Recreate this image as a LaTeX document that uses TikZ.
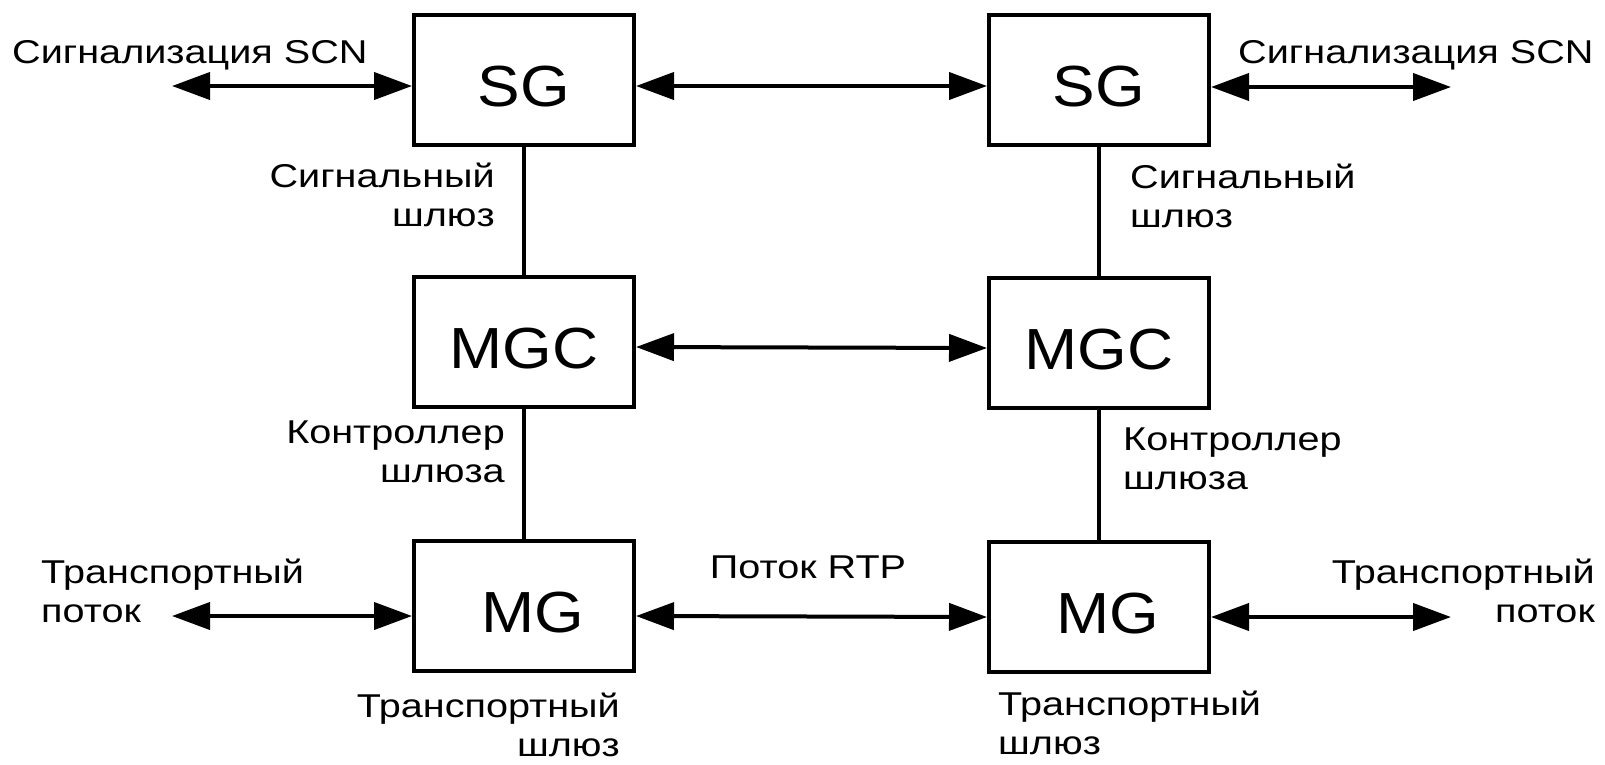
\documentclass[tikz,border=0pt]{standalone}
\usepackage{fontspec}
\setmainfont{Liberation Sans}[FakeStretch=1.2]
\newfontfamily\boxfont{Liberation Sans}[FakeStretch=1.1]
\usetikzlibrary{arrows.meta}
\tikzset{
  gw/.style={draw, line width=4pt, minimum width=220pt, minimum height=130pt,
    inner sep=0pt, text height=52pt, text depth=0pt, font=\boxfont\fontsize{58}{58}\selectfont},
  lbl/.style={inner sep=0pt, font=\fontsize{33}{39}\selectfont},
  link/.style={line width=4pt,
    {Triangle[length=38pt,width=27pt]}-{Triangle[length=38pt,width=27pt]}},
  wire/.style={line width=3.5pt}
}
\begin{document}
\begin{tikzpicture}[x=1pt,y=-1pt]
\useasboundingbox (0,0) rectangle (1605,764);
\pgfmathsetmacro{\xl}{524}
\pgfmathsetmacro{\xr}{1099}
\node[gw] (sgL) at (\xl,80) {SG};
\node[gw] (sgR) at (\xr,80) {SG};
\node[gw] (mgcL) at (\xl,342) {MGC};
\node[gw] (mgcR) at (\xr,343) {MGC};
\node[gw] (mgL) at (\xl,606) {\hspace*{18pt}MG};
\node[gw] (mgR) at (\xr,607) {\hspace*{18pt}MG};
\draw[wire] (sgL) -- (mgcL) -- (mgL);
\draw[wire] (sgR) -- (mgcR) -- (mgR);
\draw[link] ([yshift=-6pt]sgL.east) -- ([yshift=-6pt]sgR.west);
\draw[link] ([yshift=-5pt]mgcL.east) -- ([yshift=-5pt]mgcR.west);
\draw[link] ([yshift=-10pt]mgL.east) -- ([yshift=-10pt]mgR.west);
\coordinate (scnL) at (172,86);
\coordinate (scnR) at (1451,87);
\coordinate (trpL) at (172,616);
\coordinate (trpR) at (1451,617);
\draw[link] (scnL) -- (scnL -| sgL.west);
\draw[link] (scnR -| sgR.east) -- (scnR);
\draw[link] (trpL) -- (trpL -| mgL.west);
\draw[link] (trpR -| mgR.east) -- (trpR);
\node[lbl, anchor=base west] (sigtxtL) at (12,63) {Сигнализация SCN};
\node[lbl, anchor=base west] (sigtxtR) at (1238,63) {Сигнализация SCN};
\node[lbl, align=right, anchor=base east] (sgnameL) at (495,226) {Сигнальный\\шлюз};
\node[lbl, align=left, anchor=base west] (sgnameR) at (1130,227) {Сигнальный\\шлюз};
\node[lbl, align=right, anchor=base east] (mgcnameL) at (505,482) {Контроллер\\шлюза};
\node[lbl, align=left, anchor=base west] (mgcnameR) at (1123,489) {Контроллер\\шлюза};
\node[lbl, anchor=base] (rtp) at (808,578) {Поток RTP};
\node[lbl, align=left, anchor=base west] (trtxtL) at (41,622) {Транспортный\\поток};
\node[lbl, align=right, anchor=base east] (trtxtR) at (1595,622) {Транспортный\\поток};
\node[lbl, align=right, anchor=base east] (mgnameL) at (620,756) {Транспортный\\шлюз};
\node[lbl, align=left, anchor=base west] (mgnameR) at (998,754) {Транспортный\\шлюз};
\end{tikzpicture}
\end{document}
